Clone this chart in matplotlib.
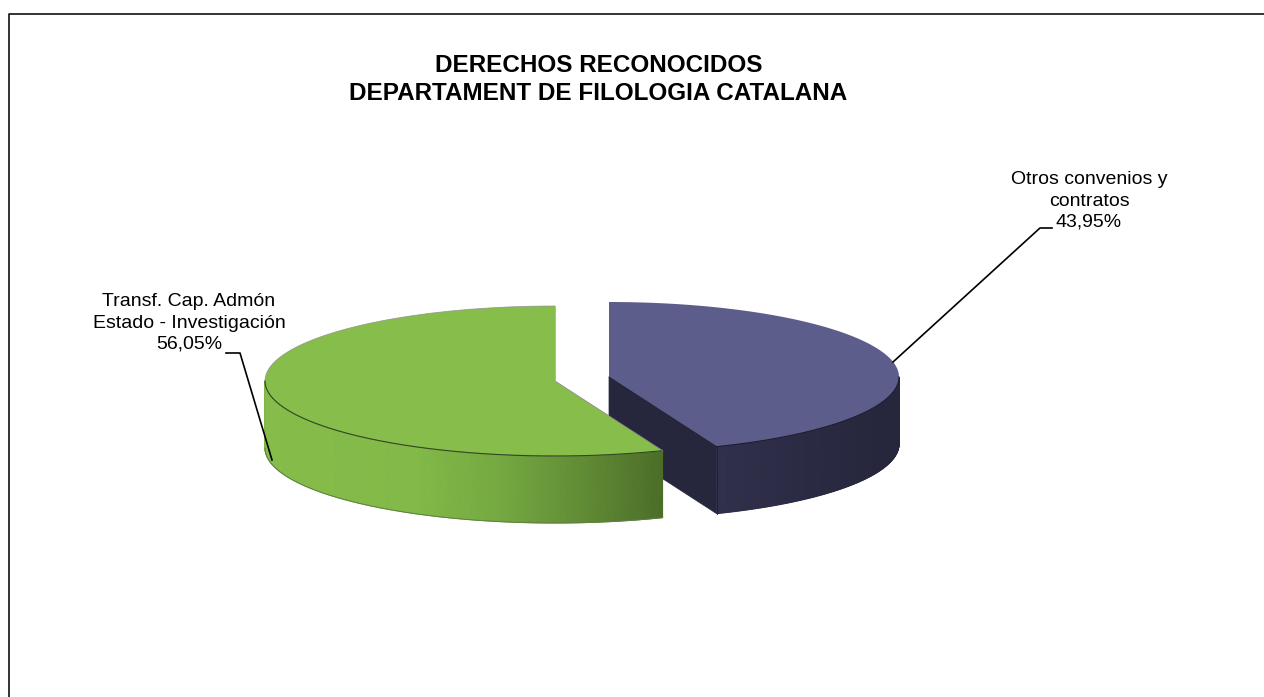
import numpy as np
import matplotlib
matplotlib.use("Agg")
import matplotlib.pyplot as plt
from matplotlib.colors import LinearSegmentedColormap

plt.rcParams['font.family'] = ['Liberation Sans', 'DejaVu Sans']

title_lines = ["DERECHOS RECONOCIDOS", "DEPARTAMENT DE FILOLOGIA CATALANA"]
labels = ["Otros convenios y\ncontratos", "Transf. Cap. Admón\nEstado - Investigación"]
shares = [43.95, 56.05]

# pie geometry, in picture pixels
rx = 290
ry = 75
depth = 67
blue_c = (609, 377)
green_c = (555, 381)

blue_top = "#5d5d8b"
blue_dark = "#26263c"
green_top = "#87be4b"

blue_wall = LinearSegmentedColormap.from_list("bw", ["#30304c", "#2a2a43", "#26263c", "#26263c"])
green_wall = LinearSegmentedColormap.from_list("gw", [(0, "#7fb548"), (0.05, "#86bd4a"), (0.55, "#82b948"),
                                                      (0.7, "#76aa42"), (0.85, "#628d36"), (1, "#4c6e29")])


def arc(c, a0, a1, dy=0, n=200):
    t = np.radians(np.linspace(a0, a1, n))
    return c[0] + rx * np.cos(t), c[1] + dy - ry * np.sin(t)


def wall(ax, c, a0, a1, cmap, z):
    # side of the pie, gouraud mesh so the shading runs along it
    x, y = arc(c, a0, a1)
    X = np.vstack([x, x])
    Y = np.vstack([y, y + depth])
    shade = np.linspace(0, 1, len(x))
    ax.pcolormesh(X, Y, np.vstack([shade, shade]), shading="gouraud", cmap=cmap,
                  vmin=0, vmax=1, zorder=z)


fig = plt.figure(figsize=(12.64, 6.97), dpi=100)
ax = fig.add_axes([0, 0, 1, 1])

# frame, only top and left are inside the crop
ax.plot([8.5, 8.5, 1264], [697, 13.5, 13.5], color="#111111", lw=1.2, zorder=1)

blue_sweep = 360 * shares[0] / 100
blue_end = 90 - blue_sweep
green_sweep = 360 * shares[1] / 100
green_end = 90 + green_sweep

# blue slice
ex = blue_c[0] + rx * np.cos(np.radians(blue_end))
ey = blue_c[1] - ry * np.sin(np.radians(blue_end))
ax.fill([blue_c[0], ex, ex, blue_c[0]], [blue_c[1], ey, ey + depth, blue_c[1] + depth],
        color=blue_dark, lw=0.5, zorder=2)
wall(ax, blue_c, blue_end, 0, blue_wall, 3)
x, y = arc(blue_c, 90, blue_end)
ax.fill(np.r_[blue_c[0], x], np.r_[blue_c[1], y], color=blue_top, lw=0, zorder=4)
x, y = arc(blue_c, 0, blue_end)
ax.plot(x, y, color="#1e1e30", lw=0.8, zorder=5)
ax.plot([blue_c[0], ex], [blue_c[1], ey], color="#1e1e30", lw=0.6, zorder=5)
ax.plot([ex, ex], [ey, ey + depth], color="#1e1e30", lw=0.6, zorder=5)

# green slice goes over the blue one
wall(ax, green_c, 180, green_end, green_wall, 6)
x, y = arc(green_c, 180, green_end, dy=depth)
ax.plot(x, y, color="#5f7f45", lw=0.7, zorder=6)
x, y = arc(green_c, 90, green_end)
ax.fill(np.r_[green_c[0], x], np.r_[green_c[1], y], color=green_top, lw=0, zorder=7)
ax.plot(x, y, color="#8f8f8f", lw=0.6, alpha=0.8, zorder=7)
x, y = arc(green_c, 180, green_end)
ax.plot(x, y, color="#2f4a18", lw=0.8, zorder=8)
gx = green_c[0] + rx * np.cos(np.radians(green_end))
gy = green_c[1] - ry * np.sin(np.radians(green_end))
ax.plot([green_c[0], gx], [green_c[1], gy], color="#8a8a8a", lw=0.6, zorder=8)
ax.plot([green_c[0], green_c[0]], [green_c[1], green_c[1] - ry], color="#a5a5a5", lw=0.6, zorder=8)

# text
ax.text(598.5, 72, title_lines[0], fontsize=17.5, fontweight="bold", ha="center", va="baseline")
ax.text(598, 100, title_lines[1], fontsize=17.5, fontweight="bold", ha="center", va="baseline")

pct = [f"{v:.2f}%".replace(".", ",") for v in shares]
ax.text(1089, 201, labels[0] + "\n" + pct[0], fontsize=14, ha="center", va="center", linespacing=1.33)
ax.text(189, 323, labels[1] + "\n" + pct[1], fontsize=14, ha="center", va="center", linespacing=1.33)

# leader lines
ax.plot([893, 1040, 1052], [362, 228, 228], color="black", lw=1.2, zorder=9)
ax.plot([272, 240, 226], [460, 353, 353], color="black", lw=1.2, zorder=9)

ax.set_xlim(0, 1264)
ax.set_ylim(697, 0)
ax.axis("off")

fig.savefig("out.png", dpi=100)
